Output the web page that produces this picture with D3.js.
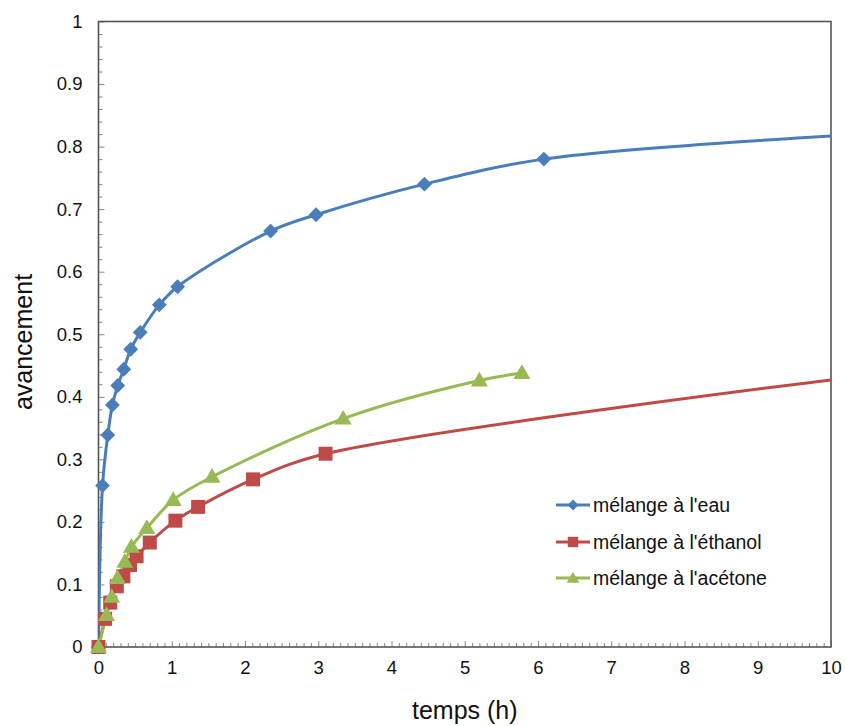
<!DOCTYPE html>
<html>
<head>
<meta charset="utf-8">
<script src="https://cdn.jsdelivr.net/npm/d3@7"></script>
<style>
  html, body { margin: 0; padding: 0; background: #fff; }
  svg { display: block; font-family: "Liberation Sans", Arial, sans-serif; }
</style>
</head>
<body>
<svg id="chart" width="845" height="726"></svg>
<script>
// ---- data ----
const seriesNames = ["mélange à l'eau", "mélange à l'éthanol", "mélange à l'acétone"];
const eauT   = [0, 0.055, 0.127, 0.19, 0.263, 0.345, 0.44, 0.57, 0.83, 1.08, 2.35, 2.97, 4.45, 6.08, 10];
const eauA   = [0, 0.258, 0.339, 0.387, 0.418, 0.444, 0.476, 0.503, 0.547, 0.576, 0.665, 0.691, 0.740, 0.780, 0.817];
const ethT   = [0, 0.09, 0.16, 0.25, 0.34, 0.43, 0.52, 0.70, 1.05, 1.36, 2.11, 3.10, 10];
const ethA   = [0, 0.045, 0.071, 0.097, 0.113, 0.131, 0.145, 0.167, 0.202, 0.224, 0.268, 0.309, 0.427];
const aceT   = [0, 0.11, 0.18, 0.26, 0.36, 0.45, 0.66, 1.02, 1.55, 3.34, 5.20, 5.78];
const aceA   = [0, 0.051, 0.08, 0.11, 0.136, 0.16, 0.19, 0.235, 0.272, 0.365, 0.426, 0.438];
const xTicks = [0, 1, 2, 3, 4, 5, 6, 7, 8, 9, 10];
const yTicks = [0, 0.1, 0.2, 0.3, 0.4, 0.5, 0.6, 0.7, 0.8, 0.9, 1];
const xTitle = "temps (h)";
const yTitle = "avancement";

const colors = ["#4a7ebb", "#be4b48", "#98b954"];
const symbols = ["diamond", "square", "triangle"];

const series = [
  { name: seriesNames[0], t: eauT, a: eauA },
  { name: seriesNames[1], t: ethT, a: ethA },
  { name: seriesNames[2], t: aceT, a: aceA }
];

// ---- layout ----
const L = 98.5, R = 831, T = 21.5, B = 647;
const svg = d3.select("#chart");
const x = d3.scaleLinear().domain([0, 10]).range([L, R]);
const y = d3.scaleLinear().domain([0, 1]).range([B, T]);
const axisColor = "#555";

// minor ticks
const g = svg.append("g");
const xMinor = d3.range(0, 100).map(i => i / 10).filter(v => v % 1 !== 0);
const yMinor = d3.range(0, 50).map(i => i / 50).filter(v => Math.abs(v * 10 - Math.round(v * 10)) > 1e-6);

g.append("g").attr("transform", `translate(0,${B})`)
  .call(d3.axisTop(x).tickValues(xMinor).tickSize(4).tickFormat(""))
  .call(s => s.select(".domain").remove())
  .call(s => s.selectAll("line").attr("stroke", "#888").attr("stroke-width", 1));
g.append("g").attr("transform", `translate(${L},0)`)
  .call(d3.axisRight(y).tickValues(yMinor).tickSize(4).tickFormat(""))
  .call(s => s.select(".domain").remove())
  .call(s => s.selectAll("line").attr("stroke", "#888").attr("stroke-width", 1));

// major ticks
g.append("g").attr("transform", `translate(0,${B})`)
  .call(d3.axisBottom(x).tickValues(xTicks).tickSize(-6).tickPadding(14).tickFormat(d3.format("d")))
  .call(s => s.select(".domain").remove())
  .call(s => s.selectAll("line").attr("stroke", "#888").attr("stroke-width", 1))
  .call(s => s.selectAll("text").attr("font-size", "18.5px").attr("fill", "#111")
      .attr("font-family", "Liberation Sans, Arial, sans-serif").attr("dy", "0.71em"));
g.append("g").attr("transform", `translate(${L},0)`)
  .call(d3.axisLeft(y).tickValues(yTicks).tickSize(-6).tickPadding(16).tickFormat(d => d === 0 || d === 1 ? d3.format("d")(d) : d3.format(".1f")(d)))
  .call(s => s.select(".domain").remove())
  .call(s => s.selectAll("line").attr("stroke", "#888").attr("stroke-width", 1))
  .call(s => s.selectAll("text").attr("font-size", "18.5px").attr("fill", "#111")
      .attr("font-family", "Liberation Sans, Arial, sans-serif"));

// frame
svg.append("rect").attr("x", L).attr("y", T).attr("width", R - L).attr("height", B - T)
  .attr("fill", "none").attr("stroke", axisColor).attr("stroke-width", 1.6);

// clip for lines only
svg.append("clipPath").attr("id", "clip").append("rect")
  .attr("x", L).attr("y", T - 10).attr("width", R - L).attr("height", B - T + 20);

const line = d3.line().x(d => x(d[0])).y(d => y(d[1])).curve(d3.curveCatmullRom.alpha(0.5));

function symbolPath(kind, scale) {
  if (kind === "diamond") return d3.symbol().type(d3.symbolSquare).size(110 * scale)();
  if (kind === "square") return d3.symbol().type(d3.symbolSquare).size(196 * scale)();
  return d3.symbol().type(d3.symbolTriangle).size(125 * scale)();
}
function symbolTransform(kind, px, py) {
  if (kind === "diamond") return `translate(${px},${py}) rotate(45)`;
  if (kind === "triangle") return `translate(${px},${py + 1})`;
  return `translate(${px},${py})`;
}

const plot = svg.append("g").attr("clip-path", "url(#clip)");
series.forEach((s, i) => {
  const pts = s.t.map((t, k) => [t, s.a[k]]);
  plot.append("path").datum(pts).attr("d", line)
    .attr("fill", "none").attr("stroke", colors[i]).attr("stroke-width", 3)
    .attr("stroke-linejoin", "round");
});
const marks = svg.append("g");
series.forEach((s, i) => {
  const pts = s.t.map((t, k) => [t, s.a[k]]).filter(p => p[0] < 10);
  marks.selectAll(null).data(pts).enter().append("path")
    .attr("d", symbolPath(symbols[i], 1))
    .attr("transform", d => symbolTransform(symbols[i], x(d[0]), y(d[1])))
    .attr("fill", colors[i]);
});

// legend
const legY = [505, 542, 578];
const leg = svg.append("g");
series.forEach((s, i) => {
  leg.append("line").attr("x1", 556).attr("x2", 590).attr("y1", legY[i]).attr("y2", legY[i])
    .attr("stroke", colors[i]).attr("stroke-width", 3);
  leg.append("path").attr("d", symbolPath(symbols[i], 0.55))
    .attr("transform", symbolTransform(symbols[i], 573, legY[i]))
    .attr("fill", colors[i]);
  leg.append("text").attr("x", 593).attr("y", legY[i]).attr("dy", "0.35em")
    .attr("font-size", "19.5px").attr("fill", "#111").text(s.name);
});

// axis titles
svg.append("text").attr("x", (L + R) / 2).attr("y", 719).attr("text-anchor", "middle")
  .attr("font-size", "25px").attr("fill", "#111").text(xTitle);
svg.append("text").attr("transform", "translate(32,342) rotate(-90)").attr("text-anchor", "middle")
  .attr("font-size", "25px").attr("fill", "#111").text(yTitle);
</script>
</body>
</html>
